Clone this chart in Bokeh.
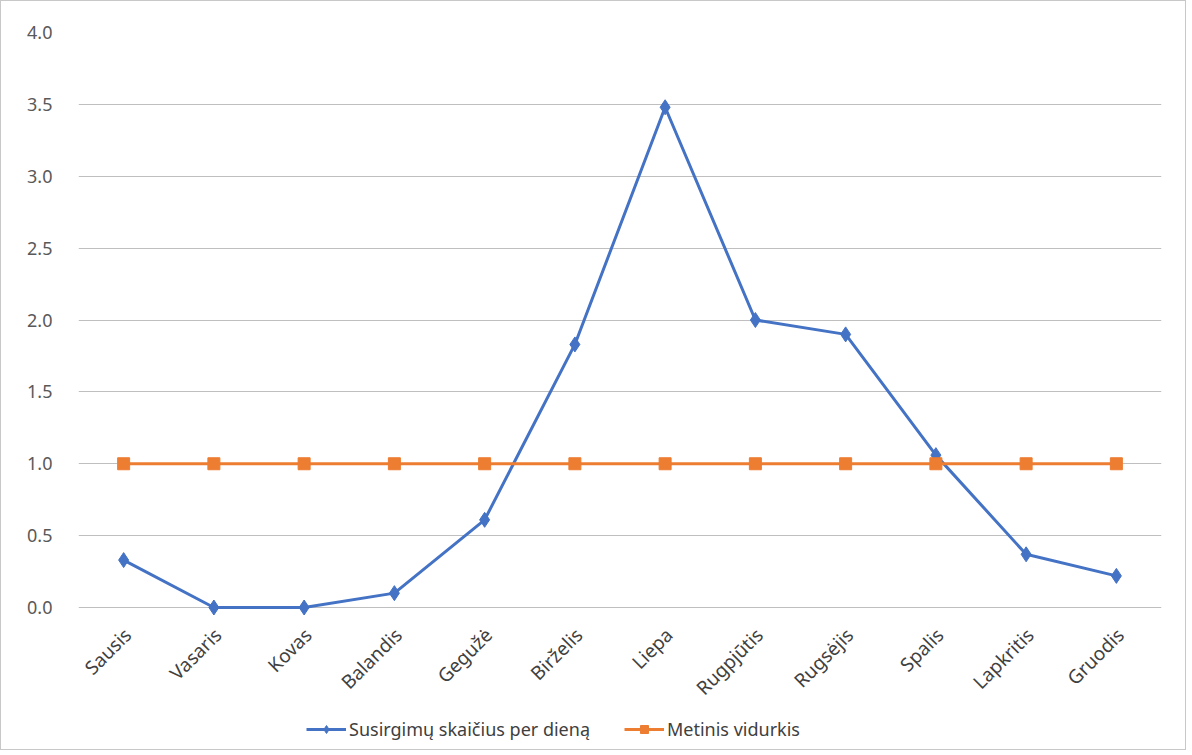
import math
from bokeh.plotting import figure
from bokeh.models import (FactorRange, Range1d, FixedTicker, NumeralTickFormatter,
                          Legend, LegendItem, ColumnDataSource)
from bokeh.core.properties import value
from bokeh.embed import file_html
from bokeh.resources import INLINE

months = ["Sausis", "Vasaris", "Kovas", "Balandis", "Gegužė", "Birželis", "Liepa",
          "Rugpjūtis", "Rugsėjis", "Spalis", "Lapkritis", "Gruodis"]
cases_per_day = [0.33, 0.0, 0.0, 0.10, 0.61, 1.83, 3.48, 2.00, 1.90, 1.06, 0.37, 0.22]
yearly_avg = [1.0] * 12
y_ticks = [0.0, 0.5, 1.0, 1.5, 2.0, 2.5, 3.0, 3.5, 4.0]

BLUE = "#4472C4"
ORANGE = "#ED7D31"
FONT = "Noto Sans"

# frame extends below the value axis to host the category labels and legend
PX_PER_UNIT = 575 / 4.0
Y_MIN = -142 / PX_PER_UNIT
LABEL_Y = -24 / PX_PER_UNIT

p = figure(frame_width=1083, frame_height=717, output_backend="svg", toolbar_location=None,
           x_range=FactorRange(factors=months, range_padding=0),
           y_range=Range1d(Y_MIN, 4),
           x_axis_location=None,
           min_border_left=77, min_border_right=24, min_border_top=31, min_border_bottom=0)
p.styles = {"border": "1px solid #C8C8C8"}
p.outline_line_color = None
p.background_fill_color = "white"
p.border_fill_color = "white"

p.yaxis.ticker = FixedTicker(ticks=y_ticks)
p.yaxis.formatter = NumeralTickFormatter(format="0.0")
p.yaxis.axis_line_color = None
p.yaxis.major_tick_line_color = None
p.yaxis.minor_tick_line_color = None
p.yaxis.major_label_text_font = FONT
p.yaxis.major_label_text_font_size = "18px"
p.yaxis.major_label_text_color = "#595959"
p.yaxis.major_label_standoff = 20

p.xgrid.grid_line_color = None
p.ygrid.grid_line_color = "#BFBFBF"
p.ygrid.grid_line_width = 1

# category labels (rotated 45 degrees)
lab_src = ColumnDataSource(dict(x=months, y=[LABEL_Y] * len(months), t=months))
p.text(x="x", y="y", text="t", source=lab_src, angle=math.pi / 4,
       text_align="right", text_baseline="middle", x_offset=4,
       text_font=value(FONT), text_font_size="19px", text_color="#404040")

l1 = p.line(months, cases_per_day, line_color=BLUE, line_width=3)
m1 = p.scatter(months, cases_per_day, marker="diamond", size=15, fill_color=BLUE, line_color=BLUE)
l2 = p.line(months, yearly_avg, line_color=ORANGE, line_width=3)
m2 = p.scatter(months, yearly_avg, marker="square", size=12, fill_color=ORANGE, line_color=ORANGE)

legend = Legend(items=[LegendItem(label="Susirgimų skaičius per dieną", renderers=[l1, m1]),
                       LegendItem(label="Metinis vidurkis", renderers=[l2, m2])],
                orientation="horizontal", location=(228, 8),
                label_text_font=FONT, label_text_font_size="18px", label_text_color="#404040",
                glyph_width=40, glyph_height=20, spacing=34, border_line_color=None,
                background_fill_alpha=0, padding=0, margin=0, label_standoff=3)
p.add_layout(legend, "center")

open("out.html", "w").write(file_html(p, INLINE))
